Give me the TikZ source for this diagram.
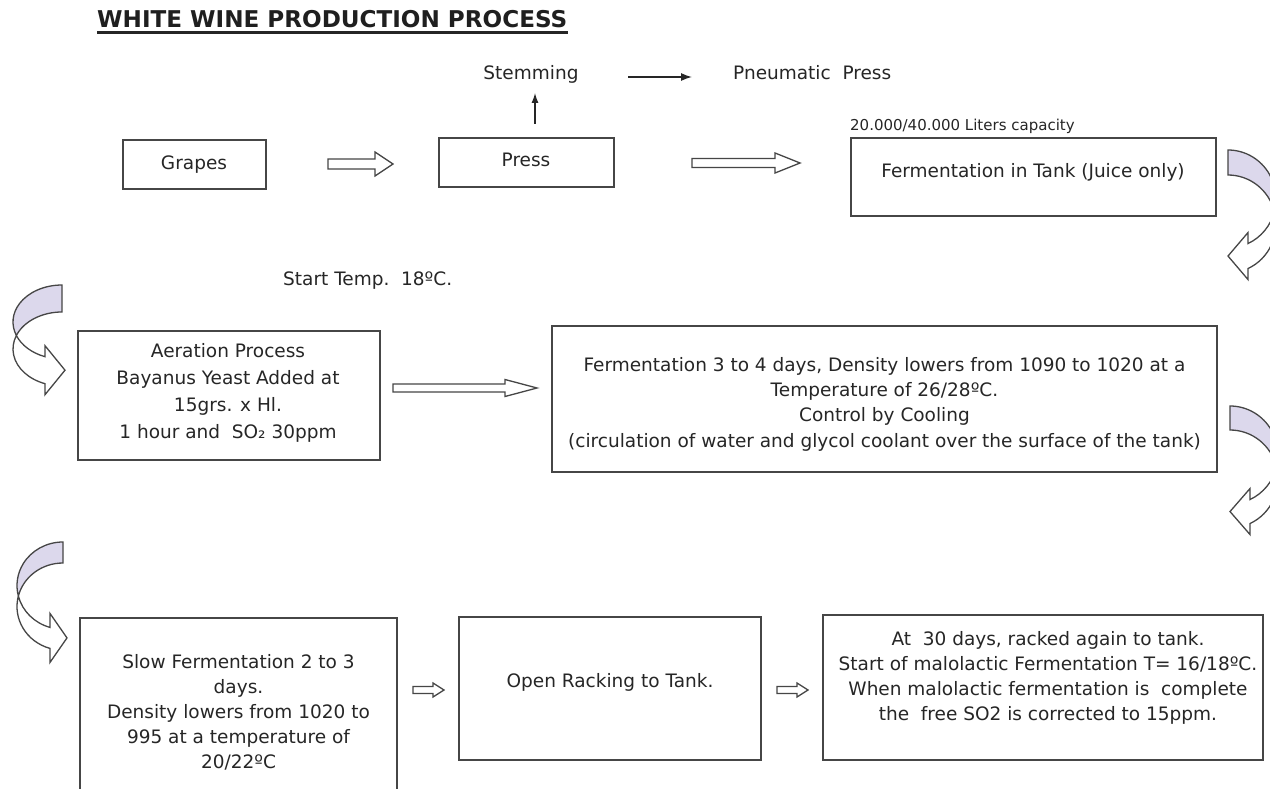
\documentclass[tikz,border=0pt]{standalone}
\usepackage{fontspec}
\setmainfont{DejaVu Sans}
\usetikzlibrary{arrows.meta}
\definecolor{ink}{RGB}{38,38,38}
\definecolor{edge}{RGB}{70,70,70}
\definecolor{lav}{RGB}{220,216,236}
\newcommand\lstrut{\rule[-6pt]{0pt}{24pt}}
% x1, y, x2, shaft half height, head half height, head length
\newcommand\harrow[6]{%
  \draw[hollow] (#1,#2-#4) -- (#3-#6,#2-#4) -- (#3-#6,#2-#5) -- (#3,#2)
    -- (#3-#6,#2+#5) -- (#3-#6,#2+#4) -- (#1,#2+#4) -- cycle;}
% 3D curved arrow: #1 scope options, #2 x radius, #3 y radius, #4 band thickness,
% #5 x of head base (negative), #6 barb extension, #7 head length
\newcommand\curvarr[7]{%
  \begin{scope}[#1]
    \pgfmathsetmacro\ca{asin(#4/(2*#3))}
    \pgfmathsetmacro\te{acos(#5/#2)}
    \pgfmathsetmacro\yI{#3+#3*sin(\te)}
    \pgfmathsetmacro\yO{\yI+#4}
    \pgfmathsetmacro\ym{\yI+#4/2}
    \pgfmathsetmacro\xP{-#2*cos(\ca)}
    \pgfmathsetmacro\yP{#3+#4/2}
    \filldraw[curv, fill=lav] (0,0)
      arc[start angle=-90, end angle={-180-\ca}, x radius=#2, y radius=#3]
      arc[start angle={-180+\ca}, end angle=-90, x radius=#2, y radius=#3] -- cycle;
    \filldraw[curv, fill=white] (\xP,\yP)
      arc[start angle={180-\ca}, end angle=\te, x radius=#2, y radius=#3]
      -- (#5,\yI-#6) -- (#5+#7,\ym) -- (#5,\yO+#6) -- (#5,\yO)
      arc[start angle=\te, end angle={180+\ca}, x radius=#2, y radius=#3] -- cycle;
  \end{scope}}
\begin{document}
\begin{tikzpicture}[x=1pt,y=-1pt,
  txt/.style={font=\fontsize{18.5}{25.5}\selectfont, text=ink, inner sep=0pt},
  box/.style={draw=edge, line width=1.5pt, inner sep=0pt},
  hollow/.style={draw=edge, line width=1.3pt, fill=white, line join=miter},
  curv/.style={draw=edge, line width=1.3pt, line join=miter},
  thin/.style={draw=ink, line width=1.3pt, -{Latex[length=11pt,width=8pt]}}]
\useasboundingbox (0,0) rectangle (1270,789);
\fill[white] (0,0) rectangle (1270,789);

% title
\node[inner sep=0pt, anchor=base west, text=black!88, font=\fontsize{23.1}{27}\selectfont\bfseries] (title) at (97,28) {WHITE WINE PRODUCTION PROCESS};
\draw[line width=2.2pt, black!85] ([yshift=-4.5pt]title.base west) -- ([yshift=-4.5pt]title.base east);

% top labels
\node[txt, anchor=base] (stem) at (531,80) {Stemming};
\node[txt, anchor=base west] (pneu) at (733,80) {Pneumatic\ \ Press};
\coordinate (s1) at (628,77);
\coordinate (s2) at (692,77);
\draw[thin] (s1) -- (s2);
\node[txt, anchor=base west, font=\fontsize{15}{18}\selectfont] (cap) at (850,131) {20.000/40.000 Liters capacity};

% row 1 boxes
\node[box, minimum width=143pt, minimum height=49pt] (grapes) at (194.5,164.5) {};
\node[txt, anchor=base] (grapesT) at (194,170) {Grapes};
\node[box, minimum width=175pt, minimum height=49pt] (press) at (526.5,162.5) {};
\node[txt, anchor=base] (pressT) at (526,167) {Press};
\node[box, minimum width=365pt, minimum height=78pt] (tank) at (1033.5,177) {};
\node[txt, anchor=base] (tankT) at (1033,178) {Fermentation in Tank (Juice only)};

\coordinate (u1) at (535,124);
\coordinate (u2) at (535,93);
\draw[thin, -{Latex[length=10pt,width=7pt]}] (u1) -- (u2);

\harrow{328}{164}{393}{5}{12}{18}
\harrow{692}{163}{800}{4.5}{10}{25}

% row 2
\node[txt, anchor=base west] (temp) at (283,285) {Start Temp.\ \ 18ºC.};
\node[box, minimum width=302pt, minimum height=129pt] (aer) at (229,395.5) {};
\node[txt, font=\fontsize{18.5}{27}\selectfont, align=center, anchor=north] (aerT) at (228,339)
  {\lstrut Aeration Process\\\lstrut Bayanus Yeast Added at\\\lstrut 15grs. x Hl.\\\lstrut 1 hour and\ \ SO₂ 30ppm};
\node[box, minimum width=665pt, minimum height=146pt] (ferm) at (884.5,399) {};
\node[txt, font=\fontsize{18.5}{25.3}\selectfont, align=center, anchor=north] (fermT) at (884.5,353)
  {\lstrut Fermentation 3 to 4 days, Density lowers from 1090 to 1020 at a\\\lstrut Temperature of 26/28ºC.\\\lstrut Control by Cooling\\\lstrut (circulation of water and glycol coolant over the surface of the tank)};
\harrow{393}{388}{537}{4}{8.5}{32}

% row 3
\node[box, minimum width=317pt, minimum height=197pt] (slow) at (238.5,716.5) {};
\node[txt, font=\fontsize{18.5}{25}\selectfont, align=center, anchor=north] (slowT) at (238.5,650)
  {\lstrut Slow Fermentation 2 to 3\\\lstrut days.\\\lstrut Density lowers from 1020 to\\\lstrut 995 at a temperature of\\\lstrut 20/22ºC};
\node[box, minimum width=302pt, minimum height=143pt] (open) at (610,688.5) {};
\node[txt, anchor=base] (openT) at (610,687) {Open Racking to Tank.};
\node[box, minimum width=440pt, minimum height=145pt] (last) at (1043,687.5) {};
\node[txt, font=\fontsize{18.5}{25}\selectfont, align=center, anchor=north] (lastT) at (1048,627)
  {\lstrut At\ \ 30 days, racked again to tank.\\\lstrut Start of malolactic Fermentation T= 16/18ºC.\\\lstrut When malolactic fermentation is\ \ complete\\\lstrut the\ \ free SO2 is corrected to 15ppm.};
\harrow{413}{690}{444}{3.5}{7}{11}
\harrow{777}{690}{808}{3.5}{7}{11}

% curved connectors
\curvarr{shift={(1228,150)},xscale=-1}{48}{49}{25}{-20}{11}{20}
\curvarr{shift={(1230,406)},xscale=-1}{48}{49}{24}{-20}{11}{20}
\curvarr{shift={(62,285)}}{49}{37}{27}{-17}{11}{20}
\curvarr{shift={(63,542)}}{46}{43.6}{21}{-13}{14}{17}
\end{tikzpicture}
\end{document}
